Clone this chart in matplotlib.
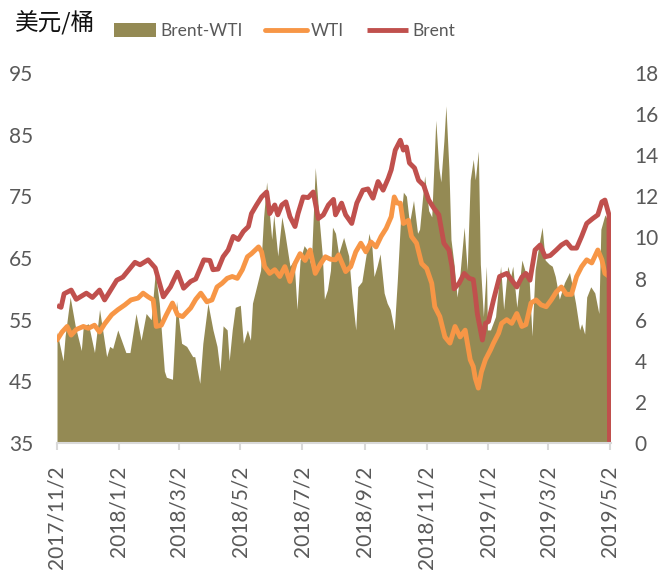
import pandas as pd
import matplotlib
matplotlib.use("Agg")
import matplotlib.pyplot as plt

plt.rcParams["font.family"] = ["Lato", "DejaVu Sans"]

# Brent (USD/bbl), left axis
brent_dates = [
    "2017-11-02", "2017-11-06", "2017-11-09", "2017-11-16", "2017-11-21", "2017-12-01",
    "2017-12-07", "2017-12-14", "2017-12-19", "2017-12-31", "2018-01-06", "2018-01-18",
    "2018-01-23", "2018-01-31", "2018-02-07", "2018-02-15", "2018-02-22", "2018-03-01",
    "2018-03-07", "2018-03-14", "2018-03-19", "2018-03-27", "2018-04-02", "2018-04-05",
    "2018-04-10", "2018-04-15", "2018-04-20", "2018-04-25", "2018-04-30", "2018-05-05",
    "2018-05-10", "2018-05-13", "2018-05-18", "2018-05-23", "2018-05-28", "2018-05-31",
    "2018-06-05", "2018-06-08", "2018-06-12", "2018-06-16", "2018-06-20", "2018-06-25",
    "2018-06-28", "2018-07-03", "2018-07-08", "2018-07-13", "2018-07-18", "2018-07-23",
    "2018-07-28", "2018-08-02", "2018-08-04", "2018-08-10", "2018-08-14", "2018-08-20",
    "2018-08-25", "2018-08-31", "2018-09-05", "2018-09-10", "2018-09-15", "2018-09-20",
    "2018-09-25", "2018-09-28", "2018-10-02", "2018-10-07", "2018-10-10", "2018-10-13",
    "2018-10-16", "2018-10-21", "2018-10-25", "2018-10-30", "2018-11-04", "2018-11-09",
    "2018-11-14", "2018-11-19", "2018-11-24", "2018-11-27", "2018-11-29", "2018-12-04",
    "2018-12-09", "2018-12-14", "2018-12-18", "2018-12-20", "2018-12-22", "2018-12-27",
    "2018-12-30", "2019-01-02", "2019-01-07", "2019-01-13", "2019-01-20", "2019-01-25",
    "2019-01-30", "2019-02-04", "2019-02-08", "2019-02-12", "2019-02-17", "2019-02-22",
    "2019-02-27", "2019-03-04", "2019-03-10", "2019-03-15", "2019-03-20", "2019-03-25",
    "2019-03-30", "2019-04-04", "2019-04-09", "2019-04-15", "2019-04-20", "2019-04-24",
    "2019-04-27", "2019-05-01", "2019-05-02",
]
brent = [
    57.3, 57.0, 59.2, 59.8, 58.3, 59.3,
    58.6, 59.8, 58.2, 61.4, 61.9, 64.3,
    63.9, 64.7, 63.4, 58.7, 60.3, 62.7,
    60.1, 61.2, 61.6, 64.7, 64.6, 63.1,
    63.2, 65.2, 66.3, 68.5, 68.0, 69.3,
    70.1, 72.2, 73.6, 74.9, 75.7, 72.2,
    73.6, 72.0, 73.6, 74.1, 71.7, 70.1,
    72.2, 74.9, 74.8, 75.7, 71.4, 72.0,
    73.6, 74.5, 72.0, 73.9, 72.0, 70.6,
    73.9, 76.0, 76.2, 74.7, 77.4, 76.0,
    77.9, 79.3, 82.5, 84.1, 82.5, 83.0,
    80.4, 79.6, 77.6, 76.8, 74.4, 73.1,
    72.0, 67.4, 66.3, 63.6, 60.0, 60.9,
    62.5, 61.7, 61.5, 59.0, 56.0, 51.7,
    54.4, 54.7, 58.2, 62.0, 62.5, 61.4,
    60.3, 61.9, 62.5, 61.4, 66.3, 67.1,
    65.2, 65.4, 66.3, 67.1, 67.6, 66.6,
    66.6, 68.5, 70.6, 71.4, 72.0, 74.1,
    74.4, 72.0, 0.0,
]

# WTI (USD/bbl), left axis
wti_dates = [
    "2017-11-02", "2017-11-07", "2017-11-12", "2017-11-16", "2017-11-21", "2017-11-28",
    "2017-12-03", "2017-12-09", "2017-12-14", "2017-12-19", "2017-12-26", "2018-01-01",
    "2018-01-08", "2018-01-14", "2018-01-21", "2018-01-26", "2018-01-31", "2018-02-05",
    "2018-02-08", "2018-02-13", "2018-02-18", "2018-02-24", "2018-03-01", "2018-03-06",
    "2018-03-14", "2018-03-19", "2018-03-24", "2018-03-30", "2018-04-04", "2018-04-09",
    "2018-04-14", "2018-04-19", "2018-04-24", "2018-04-29", "2018-05-04", "2018-05-09",
    "2018-05-13", "2018-05-20", "2018-05-23", "2018-05-26", "2018-05-31", "2018-06-05",
    "2018-06-10", "2018-06-15", "2018-06-20", "2018-06-25", "2018-06-30", "2018-07-05",
    "2018-07-10", "2018-07-15", "2018-07-20", "2018-07-25", "2018-07-30", "2018-08-04",
    "2018-08-07", "2018-08-14", "2018-08-19", "2018-08-24", "2018-08-29", "2018-09-03",
    "2018-09-08", "2018-09-13", "2018-09-18", "2018-09-23", "2018-09-28", "2018-10-01",
    "2018-10-04", "2018-10-07", "2018-10-10", "2018-10-15", "2018-10-18", "2018-10-23",
    "2018-10-28", "2018-11-02", "2018-11-07", "2018-11-10", "2018-11-15", "2018-11-20",
    "2018-11-25", "2018-11-30", "2018-12-05", "2018-12-10", "2018-12-15", "2018-12-18",
    "2018-12-20", "2018-12-23", "2018-12-26", "2018-12-30", "2019-01-04", "2019-01-07",
    "2019-01-12", "2019-01-15", "2019-01-20", "2019-01-25", "2019-01-30", "2019-02-04",
    "2019-02-08", "2019-02-13", "2019-02-18", "2019-02-23", "2019-02-28", "2019-03-05",
    "2019-03-10", "2019-03-15", "2019-03-20", "2019-03-25", "2019-03-30", "2019-04-04",
    "2019-04-09", "2019-04-14", "2019-04-20", "2019-04-24", "2019-04-27", "2019-05-02",
]
wti = [
    51.7, 53.0, 53.9, 52.5, 53.4, 53.9,
    53.6, 54.1, 53.0, 54.3, 55.8, 56.6,
    57.4, 58.2, 58.5, 59.3, 58.7, 58.2,
    53.9, 54.1, 55.8, 57.7, 55.8, 55.5,
    56.9, 58.3, 59.3, 57.9, 58.2, 60.3,
    60.9, 61.7, 62.0, 61.7, 63.1, 65.2,
    65.7, 66.8, 66.0, 63.6, 62.5, 63.1,
    62.0, 63.6, 61.2, 64.1, 65.7, 64.6,
    66.3, 62.5, 64.0, 65.2, 64.8, 64.7,
    65.5, 62.8, 63.6, 66.0, 67.4, 66.0,
    67.6, 66.8, 68.5, 69.8, 71.7, 74.9,
    73.9, 73.9, 70.6, 71.1, 68.5, 67.4,
    64.1, 63.3, 60.9, 57.1, 55.5, 52.2,
    51.2, 53.9, 52.2, 53.3, 48.5, 47.4,
    45.5, 43.9, 46.5, 48.5, 50.1, 51.2,
    52.8, 54.4, 55.0, 54.4, 56.0, 53.9,
    54.2, 57.7, 58.2, 57.4, 57.1, 58.2,
    59.5, 60.3, 59.1, 59.1, 62.0, 63.6,
    64.7, 64.2, 66.3, 64.7, 62.5, 61.9,
]

# Brent-WTI spread (USD/bbl), right axis
spread_dates = [
    "2017-11-02", "2017-11-08", "2017-11-10", "2017-11-15", "2017-11-20", "2017-11-26",
    "2017-11-28", "2017-12-03", "2017-12-09", "2017-12-14", "2017-12-21", "2017-12-24",
    "2017-12-27", "2018-01-01", "2018-01-09", "2018-01-13", "2018-01-19", "2018-01-24",
    "2018-01-29", "2018-02-03", "2018-02-07", "2018-02-11", "2018-02-16", "2018-02-18",
    "2018-02-24", "2018-02-28", "2018-03-05", "2018-03-10", "2018-03-16", "2018-03-18",
    "2018-03-23", "2018-03-26", "2018-03-31", "2018-04-05", "2018-04-09", "2018-04-12",
    "2018-04-15", "2018-04-19", "2018-04-21", "2018-04-24", "2018-04-27", "2018-05-02",
    "2018-05-05", "2018-05-09", "2018-05-12", "2018-05-14", "2018-05-19", "2018-05-22",
    "2018-05-25", "2018-05-28", "2018-05-31", "2018-06-02", "2018-06-04", "2018-06-08",
    "2018-06-12", "2018-06-15", "2018-06-20", "2018-06-24", "2018-06-27", "2018-06-30",
    "2018-07-04", "2018-07-07", "2018-07-11", "2018-07-15", "2018-07-19", "2018-07-22",
    "2018-07-24", "2018-07-27", "2018-07-30", "2018-08-01", "2018-08-04", "2018-08-07",
    "2018-08-12", "2018-08-17", "2018-08-20", "2018-08-24", "2018-08-26", "2018-08-30",
    "2018-09-03", "2018-09-06", "2018-09-09", "2018-09-11", "2018-09-14", "2018-09-17",
    "2018-09-21", "2018-09-24", "2018-09-27", "2018-10-01", "2018-10-04", "2018-10-07",
    "2018-10-10", "2018-10-13", "2018-10-16", "2018-10-20", "2018-10-24", "2018-10-26",
    "2018-10-31", "2018-11-04", "2018-11-07", "2018-11-11", "2018-11-14", "2018-11-16",
    "2018-11-19", "2018-11-21", "2018-11-24", "2018-11-26", "2018-11-29", "2018-12-02",
    "2018-12-05", "2018-12-09", "2018-12-12", "2018-12-15", "2018-12-18", "2018-12-20",
    "2018-12-23", "2018-12-25", "2018-12-28", "2018-12-31", "2019-01-01", "2019-01-04",
    "2019-01-09", "2019-01-14", "2019-01-17", "2019-01-21", "2019-01-24", "2019-01-26",
    "2019-01-30", "2019-02-04", "2019-02-07", "2019-02-11", "2019-02-14", "2019-02-17",
    "2019-02-21", "2019-02-24", "2019-02-27", "2019-03-03", "2019-03-06", "2019-03-09",
    "2019-03-13", "2019-03-18", "2019-03-23", "2019-03-26", "2019-03-29", "2019-04-02",
    "2019-04-04", "2019-04-07", "2019-04-09", "2019-04-13", "2019-04-17", "2019-04-21",
    "2019-04-23", "2019-04-27", "2019-04-30", "2019-05-01", "2019-05-02",
]
spread = [
    5.4, 4.0, 5.2, 7.1, 5.7, 4.5,
    5.7, 5.8, 4.4, 6.5, 4.2, 4.7,
    4.6, 5.5, 4.4, 4.4, 6.3, 5.0,
    6.3, 6.0, 8.3, 6.8, 3.5, 3.2,
    3.1, 6.9, 4.85, 4.7, 4.2, 4.2,
    2.9, 4.85, 6.8, 5.5, 4.7, 3.5,
    5.7, 5.5, 4.0, 5.5, 6.6, 6.7,
    4.85, 5.5, 5.0, 6.8, 7.8, 8.4,
    11.0, 12.7, 11.0, 9.9, 11.1, 9.1,
    11.0, 10.2, 8.6, 8.9, 6.5, 8.9,
    9.6, 9.4, 8.6, 13.4, 10.8, 9.1,
    7.0, 7.45, 8.4, 10.5, 10.2, 9.2,
    10.0, 9.1, 7.3, 5.5, 7.6, 7.85,
    9.1, 10.2, 9.5, 8.1, 8.6, 9.2,
    7.3, 6.8, 6.5, 5.5, 7.9, 10.7,
    12.2, 12.0, 10.7, 11.8, 10.2, 10.4,
    13.0, 11.3, 11.0, 15.7, 13.4, 12.7,
    14.7, 16.4, 13.3, 9.9, 8.7, 7.1,
    8.3, 10.5, 8.4, 12.8, 13.8, 12.8,
    14.2, 8.7, 6.15, 8.6, 5.5, 5.5,
    6.15, 8.6, 6.5, 8.6, 8.1, 8.6,
    6.6, 8.9, 8.4, 8.1, 5.2, 8.4,
    9.7, 10.5, 8.9, 8.7, 8.6, 8.1,
    7.0, 7.8, 8.3, 7.6, 6.8, 5.5,
    5.8, 5.3, 7.1, 7.6, 7.3, 6.3,
    10.4, 11.1, 10.8, 0.0, 0.0,
]

tick_dates = ["2017-11-02", "2018-01-02", "2018-03-02", "2018-05-02", "2018-07-02",
              "2018-09-02", "2018-11-02", "2019-01-02", "2019-03-02", "2019-05-02"]
tick_labels = ["2017/11/2", "2018/1/2", "2018/3/2", "2018/5/2", "2018/7/2",
               "2018/9/2", "2018/11/2", "2019/1/2", "2019/3/2", "2019/5/2"]
left_ticks = [35, 45, 55, 65, 75, 85, 95]
right_ticks = [0, 2, 4, 6, 8, 10, 12, 14, 16, 18]

OLIVE = "#948A54"
ORANGE = "#F79646"
RED = "#C0504D"
GREY_TXT = "#595959"

fig = plt.figure(figsize=(6.63, 5.74), dpi=100)
ax = fig.add_axes([57 / 663, 1 - 443 / 574, 554 / 663, 370 / 574])
ax2 = ax.twinx()

# area on the right axis, drawn underneath the lines
area = ax2.fill_between(pd.to_datetime(spread_dates), spread, 0, color=OLIVE, lw=0, label="Brent-WTI")
ax.set_zorder(ax2.get_zorder() + 1)
ax.patch.set_visible(False)

l_wti, = ax.plot(pd.to_datetime(wti_dates), wti, color=ORANGE, lw=3.5,
                 solid_joinstyle="round", solid_capstyle="round", label="WTI")
l_brent, = ax.plot(pd.to_datetime(brent_dates), brent, color=RED, lw=3.5,
                   solid_joinstyle="round", solid_capstyle="butt", label="Brent")

ax.set_xlim(pd.Timestamp("2017-11-02"), pd.Timestamp("2019-05-03"))
ax.set_ylim(35, 95)
ax2.set_ylim(0, 18)
ax.set_yticks(left_ticks)
ax2.set_yticks(right_ticks)
ax.set_xticks(pd.to_datetime(tick_dates))
ax.set_xticklabels(tick_labels, rotation=90)

for a in (ax, ax2):
    for s in ("top", "left", "right", "bottom"):
        a.spines[s].set_visible(False)
ax.spines["bottom"].set_visible(True)
ax.spines["bottom"].set_color("#D9D9D9")
ax.spines["bottom"].set_linewidth(1.5)

ax.tick_params(axis="x", colors="#D9D9D9", length=5, width=1.5, pad=11,
               labelcolor=GREY_TXT, labelsize=15)
ax.tick_params(axis="y", length=0, pad=17, labelcolor=GREY_TXT, labelsize=15)
ax2.tick_params(axis="y", length=0, pad=17, labelcolor=GREY_TXT, labelsize=15)

fig.text(15 / 663, 1 - 23 / 574, "美元/桶", family=["Noto Sans CJK SC", "DejaVu Sans"],
         fontsize=17, va="center", ha="left", color="#111111")

fig.legend(handles=[area, l_wti, l_brent], loc="center left",
           bbox_to_anchor=(114 / 663, 1 - 31 / 574), ncol=3, frameon=False,
           fontsize=12.5, labelcolor=GREY_TXT, handlelength=2.4, handleheight=0.8,
           handletextpad=0.25, columnspacing=1.3, borderpad=0, borderaxespad=0)

fig.savefig("out.png", dpi=100)
